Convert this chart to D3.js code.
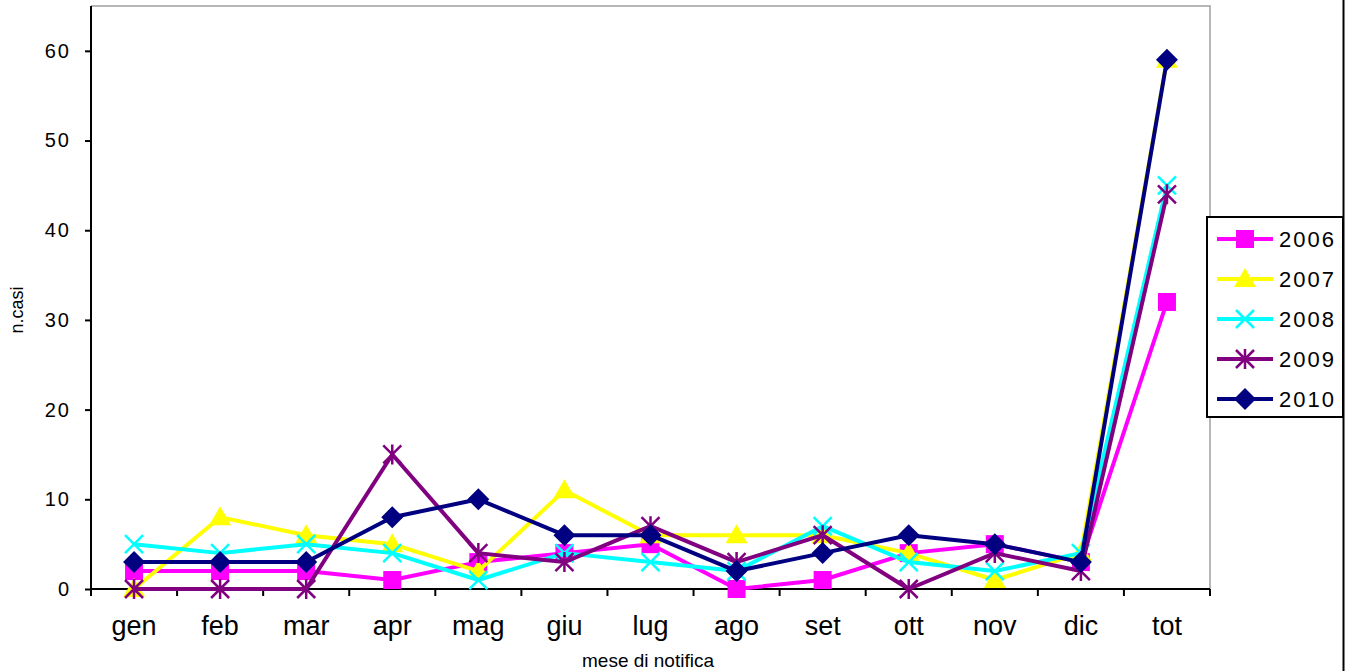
<!DOCTYPE html>
<html><head><meta charset="utf-8">
<script src="https://cdn.jsdelivr.net/npm/d3@7"></script>
<style>body{margin:0;background:#fff}svg{display:block}</style>
</head><body>
<script>
const categories = ["gen","feb","mar","apr","mag","giu","lug","ago","set","ott","nov","dic","tot"];
const years = ["2006","2007","2008","2009","2010"];
const s2006 = [2,2,2,1,3,4,5,0,1,4,5,3,32];
const s2007 = [0,8,6,5,2,11,6,6,6,4,1,4,59];
const s2008 = [5,4,5,4,1,4,3,2,7,3,2,4,45];
const s2009 = [0,0,0,15,4,3,7,3,6,0,4,2,44];
const s2010 = [3,3,3,8,10,6,6,2,4,6,5,3,59];
const yTicks = [0,10,20,30,40,50,60];
const colors = ["#FF00FF","#FFFF00","#00FFFF","#800080","#000080"];
const markers = ["square","triangle","x","star","diamond"];
const seriesVals = [s2006,s2007,s2008,s2009,s2010];

const W=1354,H=671;
const L=91,R=1210,T=6,B=589;
const FONT="Liberation Sans, Arial, sans-serif";
const svg=d3.select("body").append("svg").attr("width",W).attr("height",H);
const x=d3.scaleBand().domain(categories).range([L,R]);
const y=d3.scaleLinear().domain([0,65]).range([B,T]);

svg.append("path").attr("d",`M${L},${T}H${R}V${B}`).attr("fill","none").attr("stroke","#a0a0a0").attr("stroke-width",1.5);
svg.append("line").attr("x1",1343.5).attr("x2",1343.5).attr("y1",0).attr("y2",H).attr("stroke","#000").attr("stroke-width",2);

const ya=svg.append("g").attr("transform",`translate(${L},0)`).call(d3.axisLeft(y).tickValues(yTicks).tickSize(6).tickPadding(14));
ya.select(".domain").attr("stroke","#000").attr("stroke-width",2).attr("d",`M-0,${T}V${B}`);
ya.selectAll(".tick line").attr("stroke","#000").attr("stroke-width",2);
ya.selectAll(".tick text").attr("font-family",FONT).attr("font-size",20).attr("letter-spacing","2px").attr("fill","#000");

const xa=svg.append("g").attr("transform",`translate(0,${B})`).call(d3.axisBottom(x).tickSize(0).tickPadding(27));
xa.select(".domain").attr("stroke","#000").attr("stroke-width",2).attr("d",`M${L},0H${R}`);
xa.selectAll(".tick text").attr("font-family",FONT).attr("font-size",27).attr("fill","#000");
const bounds=categories.map(c=>x(c)).concat([R]);
xa.selectAll(".bt").data(bounds).enter().append("line").attr("x1",d=>d).attr("x2",d=>d).attr("y1",0).attr("y2",7).attr("stroke","#000").attr("stroke-width",2);

svg.append("text").attr("x",648).attr("y",667).attr("text-anchor","middle").attr("font-family",FONT).attr("font-size",19).text("mese di notifica");
svg.append("text").attr("transform","translate(23,310) rotate(-90)").attr("text-anchor","middle").attr("font-family",FONT).attr("font-size",18).text("n.casi");

function drawMarker(g,type,cx,cy,color){
  if(type==="square"){
    g.append("rect").attr("x",cx-9).attr("y",cy-9).attr("width",18).attr("height",18).attr("fill",color);
  } else if(type==="triangle"){
    g.append("path").attr("d",`M${cx},${cy-11}L${cx+11},${cy+8}L${cx-11},${cy+8}Z`).attr("fill",color);
  } else if(type==="diamond"){
    g.append("path").attr("d",`M${cx},${cy-11}L${cx+11},${cy}L${cx},${cy+11}L${cx-11},${cy}Z`).attr("fill",color);
  } else if(type==="x"){
    g.append("path").attr("d",`M${cx-9},${cy-9}L${cx+9},${cy+9}M${cx+9},${cy-9}L${cx-9},${cy+9}`).attr("stroke",color).attr("stroke-width",2.5);
  } else if(type==="star"){
    g.append("path").attr("d",`M${cx-9},${cy-9}L${cx+9},${cy+9}M${cx+9},${cy-9}L${cx-9},${cy+9}M${cx},${cy-10}L${cx},${cy+10}`).attr("stroke",color).attr("stroke-width",2.5);
  }
}

const line=d3.line().x((d,i)=>x(categories[i])+x.bandwidth()/2).y(d=>y(d));
seriesVals.forEach((vals,si)=>{
  const g=svg.append("g");
  g.append("path").datum(vals).attr("d",line).attr("fill","none").attr("stroke",colors[si]).attr("stroke-width",4).attr("stroke-linejoin","round");
  vals.forEach((v,i)=>drawMarker(g,markers[si],x(categories[i])+x.bandwidth()/2,y(v),colors[si]));
});

const lg=svg.append("g");
lg.append("rect").attr("x",1207).attr("y",217).attr("width",136).attr("height",200).attr("fill","#fff").attr("stroke","#000").attr("stroke-width",2);
years.forEach((yr,i)=>{
  const cy=239+i*40;
  lg.append("line").attr("x1",1217).attr("x2",1273).attr("y1",cy).attr("y2",cy).attr("stroke",colors[i]).attr("stroke-width",4);
  drawMarker(lg,markers[i],1245,cy,colors[i]);
  lg.append("text").attr("x",1279).attr("y",cy+8).attr("font-family",FONT).attr("font-size",22).attr("letter-spacing","2px").text(yr);
});
</script>
</body></html>
